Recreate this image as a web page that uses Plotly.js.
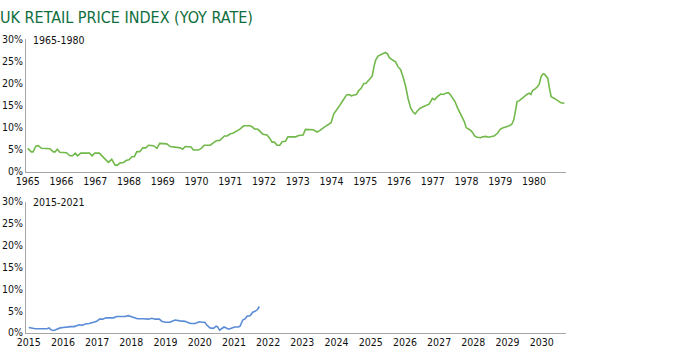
<!DOCTYPE html>
<html>
<head>
<meta charset="utf-8">
<script src="https://cdn.plot.ly/plotly-3.0.1.min.js"></script>
<style>
html,body{margin:0;padding:0;background:#fff;}
#chart{width:700px;height:360px;}
</style>
</head>
<body>
<div id="chart"></div>
<script>
// ---- Data ----
// 1965-1980: decimal year, YoY RPI %
const years7080 = [1965.00,1965.11,1965.16,1965.24,1965.31,1965.41,1965.66,1965.76,1965.81,1965.88,1965.95,1966.15,1966.25,1966.33,1966.41,1966.48,1966.57,1966.83,1966.91,1966.99,1967.12,1967.19,1967.29,1967.39,1967.49,1967.59,1967.66,1967.74,1967.84,1967.93,1968.00,1968.09,1968.16,1968.23,1968.33,1968.41,1968.50,1968.58,1968.73,1968.83,1968.91,1969.12,1969.22,1969.42,1969.52,1969.59,1969.67,1969.84,1969.91,1970.06,1970.16,1970.23,1970.41,1970.51,1970.59,1970.69,1970.76,1970.83,1970.91,1971.01,1971.08,1971.18,1971.28,1971.40,1971.58,1971.65,1971.72,1971.82,1971.89,1971.97,1972.09,1972.17,1972.24,1972.31,1972.39,1972.47,1972.54,1972.64,1972.71,1972.94,1973.03,1973.16,1973.23,1973.46,1973.58,1973.65,1973.79,1973.91,1973.99,1974.07,1974.12,1974.22,1974.32,1974.45,1974.52,1974.59,1974.67,1974.74,1974.81,1974.88,1974.96,1975.02,1975.11,1975.16,1975.21,1975.26,1975.31,1975.38,1975.46,1975.54,1975.60,1975.66,1975.71,1975.81,1975.90,1975.97,1976.05,1976.12,1976.20,1976.27,1976.35,1976.43,1976.48,1976.55,1976.63,1976.72,1976.82,1976.89,1976.94,1976.99,1977.06,1977.14,1977.24,1977.32,1977.39,1977.46,1977.52,1977.59,1977.66,1977.74,1977.82,1977.89,1977.94,1977.99,1978.04,1978.12,1978.19,1978.24,1978.32,1978.42,1978.48,1978.58,1978.65,1978.72,1978.82,1978.92,1979.00,1979.07,1979.17,1979.27,1979.34,1979.40,1979.44,1979.50,1979.57,1979.64,1979.71,1979.79,1979.86,1979.91,1979.96,1980.03,1980.11,1980.16,1980.21,1980.26,1980.31,1980.36,1980.41,1980.46,1980.51,1980.61,1980.70,1980.80,1980.90];
const rpi7080 = [5.3,4.5,4.5,5.8,5.9,5.3,5.2,4.5,4.5,5.1,4.4,4.3,3.6,3.6,4.2,3.6,4.2,4.2,3.6,4.2,4.2,3.6,2.8,2.1,2.8,1.5,1.5,2.0,2.1,2.6,2.7,3.4,3.4,4.5,4.6,5.4,5.4,6.0,5.9,5.3,6.4,6.3,5.7,5.5,5.4,5.1,5.7,5.6,4.9,4.9,5.4,6.0,6.0,6.6,7.0,7.1,7.6,8.1,8.1,8.6,8.7,9.1,9.6,10.4,10.4,10.2,9.7,9.6,9.0,8.5,8.3,7.6,6.7,6.7,6.0,6.0,6.8,6.9,7.9,7.9,8.2,8.3,9.6,9.5,9.0,9.3,10.1,10.6,11.1,13.1,13.6,14.7,15.9,17.4,17.5,17.2,17.4,17.5,18.4,18.9,20.0,20.0,20.8,21.3,21.7,23.8,25.3,26.2,26.5,26.8,27.0,26.7,25.9,25.3,24.9,23.8,23.1,21.5,19.3,16.6,14.4,13.4,13.1,13.8,14.4,14.7,15.0,15.3,15.9,16.6,16.3,17.0,17.6,17.5,17.8,17.9,17.5,16.6,15.9,14.4,13.2,12.3,11.3,10.0,9.8,9.4,8.8,8.1,7.8,7.7,7.9,8.0,7.8,7.9,8.1,8.7,9.6,9.9,10.1,10.4,10.7,11.7,13.2,15.9,16.1,16.6,17.0,17.5,17.8,17.5,18.4,18.7,19.3,19.9,21.5,22.1,22.1,21.7,21.2,18.9,17.0,16.6,16.1,15.6,15.5];

// 2015-2021
const years1521 = [2015.00,2015.09,2015.19,2015.53,2015.60,2015.64,2015.72,2015.77,2015.84,2015.92,2016.01,2016.11,2016.16,2016.23,2016.33,2016.40,2016.48,2016.58,2016.65,2016.77,2016.87,2016.99,2017.07,2017.16,2017.26,2017.38,2017.48,2017.57,2017.72,2017.82,2017.91,2017.99,2018.08,2018.18,2018.35,2018.50,2018.60,2018.69,2018.82,2018.89,2018.99,2019.13,2019.21,2019.28,2019.42,2019.57,2019.67,2019.74,2019.86,2019.93,2019.99,2020.06,2020.15,2020.20,2020.30,2020.40,2020.48,2020.52,2020.58,2020.64,2020.71,2020.79,2020.85,2020.94,2021.03,2021.13,2021.18,2021.26,2021.33,2021.39,2021.47,2021.55,2021.62,2021.69,2021.74];
const rpi1521 = [1.2,1.1,0.9,0.9,1.1,0.7,0.5,0.6,0.9,1.1,1.2,1.3,1.5,1.4,1.4,1.6,1.8,1.7,2.0,2.1,2.3,2.6,3.1,3.1,3.4,3.4,3.4,3.7,3.7,3.7,3.9,3.7,3.4,3.2,3.2,3.1,3.3,3.1,3.1,2.6,2.4,2.4,2.7,2.9,2.7,2.6,2.3,2.1,2.1,2.3,2.5,2.4,2.4,1.8,1.1,1.0,1.5,1.4,0.6,0.9,1.3,1.0,0.8,1.1,1.3,1.3,1.5,2.9,3.2,3.8,3.9,4.7,4.9,5.3,6.0];

const ticksTop = [1965,1966,1967,1968,1969,1970,1971,1972,1973,1974,1975,1976,1977,1978,1979,1980];
const ticksBottom = [2015,2016,2017,2018,2019,2020,2021,2022,2023,2024,2025,2026,2027,2028,2029,2030];
const yTicks = [0,5,10,15,20,25,30];
const yTickText = ['0%','5%','10%','15%','20%','25%','30%'];
const chartTitle = 'UK RETAIL PRICE INDEX (YOY RATE)';
const label1 = '1965-1980';
const label2 = '2015-2021';

// ---- Style ----
const tickFont = {family: '"Liberation Sans Narrow", "DejaVu Sans Condensed", sans-serif', size: 10.5, color: '#111111'};
const axisGray = '#a6a6a6';

function xAxis(range, tickvals, anchor) {
  return {
    range: range, tickmode: 'array', tickvals: tickvals, ticktext: tickvals.map(String),
    showgrid: false, zeroline: false, showline: true, linecolor: axisGray, linewidth: 1,
    ticks: '', tickfont: tickFont, anchor: anchor, domain: [26/700, 566/700], fixedrange: true
  };
}
function yAxis(domain, anchor) {
  return {
    range: [0, 30], tickmode: 'array', tickvals: yTicks, ticktext: yTickText,
    showgrid: false, zeroline: false, showline: true, linecolor: axisGray, linewidth: 1,
    ticks: '', tickfont: tickFont, anchor: anchor, domain: domain, fixedrange: true
  };
}

const traces = [
  {x: years7080, y: rpi7080, type: 'scatter', mode: 'lines', xaxis: 'x', yaxis: 'y',
   line: {color: '#72b94b', width: 1.6, shape: 'linear'}, hoverinfo: 'skip'},
  {x: years1521, y: rpi1521, type: 'scatter', mode: 'lines', xaxis: 'x2', yaxis: 'y2',
   line: {color: '#5a8cd7', width: 1.6, shape: 'linear'}, hoverinfo: 'skip'}
];

const layout = {
  width: 700, height: 360,
  margin: {l: 0, r: 0, t: 0, b: 0},
  paper_bgcolor: '#ffffff', plot_bgcolor: '#ffffff',
  showlegend: false,
  title: {
    text: chartTitle, x: 0, xref: 'container', xanchor: 'left',
    y: 1 - 17/360, yref: 'container', yanchor: 'middle',
    font: {family: '"Liberation Sans Narrow", "DejaVu Sans Condensed", sans-serif', size: 16, color: '#0f6e3d'}
  },
  xaxis: xAxis([1964.95, 1980.95], ticksTop, 'y'),
  yaxis: yAxis([1 - 171.7/360, 1 - 39.3/360], 'x'),
  xaxis2: xAxis([2014.92, 2030.71], ticksBottom, 'y2'),
  yaxis2: yAxis([1 - 332.7/360, 1 - 201.7/360], 'x2'),
  annotations: [
    {text: label1, xref: 'paper', yref: 'paper', x: 31/700, y: 1 - 40/360, xanchor: 'left', yanchor: 'middle',
     showarrow: false, font: tickFont},
    {text: label2, xref: 'paper', yref: 'paper', x: 31/700, y: 1 - 202/360, xanchor: 'left', yanchor: 'middle',
     showarrow: false, font: tickFont}
  ]
};

Plotly.newPlot('chart', traces, layout, {displayModeBar: false, staticPlot: true});
</script>
</body>
</html>
